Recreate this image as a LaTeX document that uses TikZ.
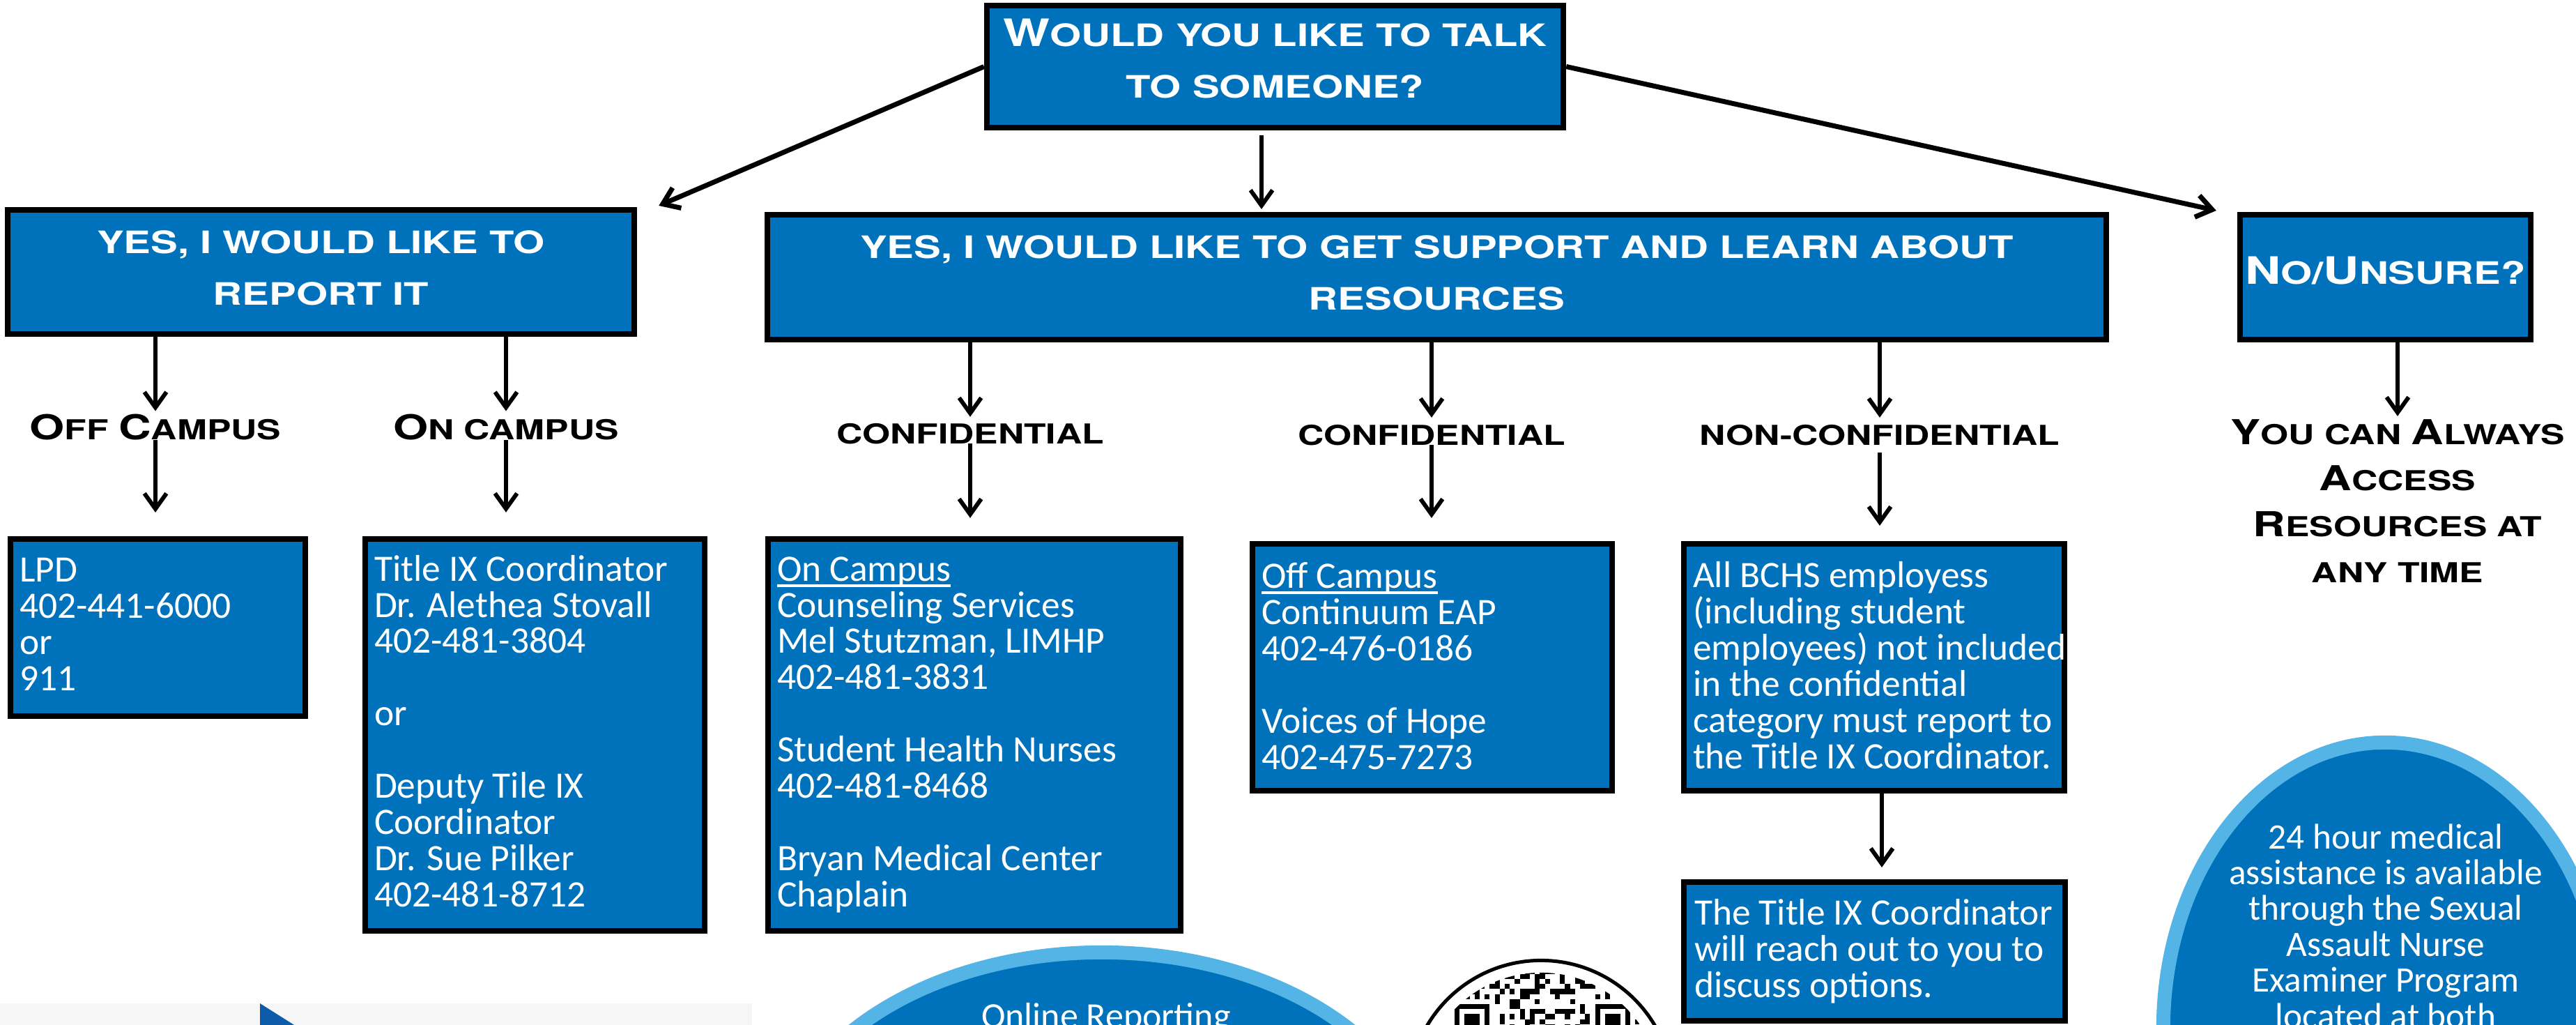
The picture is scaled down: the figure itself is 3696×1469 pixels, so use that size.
\documentclass[tikz,border=0pt]{standalone}
\usepackage{fontspec}
\setmainfont{Carlito}
\newfontfamily\bodyf{Carlito}
\newfontfamily\capf[FakeStretch=1.31]{TeX Gyre Heros}
\usetikzlibrary{arrows.meta,shapes.geometric}
\definecolor{boxblue}{RGB}{0,114,187}
\definecolor{ringblue}{RGB}{84,180,230}
\definecolor{triblue}{RGB}{12,92,170}
\definecolor{bandgray}{RGB}{246,246,246}
\setlength{\lineskiplimit}{-20pt}
\newcommand\Hb[1]{{\fontsize{15.4}{21}\selectfont #1}}
\newcommand\Lb[1]{{\fontsize{14}{18.7}\selectfont #1}}
\newcommand\myul[1]{\setbox0=\hbox{#1}\rlap{\rule[-2.4pt]{\wd0}{1.1pt}}\box0}
\tikzset{
  box/.style={rectangle, draw=black, line width=0.08cm, fill=boxblue, inner sep=0pt},
  hdr/.style={anchor=base, align=center, inner sep=0pt, outer sep=0pt, text=white, font=\capf\bfseries\fontsize{12.6}{21}\selectfont},
  lbl/.style={anchor=base, align=center, inner sep=0pt, outer sep=0pt, text=black, font=\capf\bfseries\fontsize{11.2}{18.7}\selectfont},
  body/.style={anchor=base west, align=left, inner sep=0pt, outer sep=0pt, text=white, font=\bodyf\fontsize{15.2}{14.75}\selectfont},
  ovaltext/.style={anchor=base, align=center, inner sep=0pt, text=white, font=\bodyf\fontsize{14.6}{14.6}\selectfont},
  arr/.style={line width=1.7pt, -{Straight Barb[length=6.3pt,width=9pt]}},
  darr/.style={arr, line width=2pt},
  oval/.style={ellipse, draw=ringblue, line width=0.2cm, fill=boxblue, inner sep=0pt}
}
\begin{document}
\begin{tikzpicture}[x=0.01cm, y=-0.01cm]
\useasboundingbox (0,0) rectangle (3696,1469);
\clip (0,0) rectangle (3696,1469);
\fill[white] (0,0) rectangle (3696,1469);
% bottom-left decoration
\fill[bandgray] (0,1439) rectangle (1079,1480);
\fill[triblue] (373,1439) -- (373,1480) -- (438,1480) -- cycle;

% ovals
\node[oval, minimum width=9.4cm, minimum height=6.4cm] (online) at (1581,1686) {};
\node[ovaltext, font=\bodyf\fontsize{14.8}{14.75}\selectfont] (onlineT) at (1587,1474) {Online Reporting};
\node[oval, minimum width=6.36cm, minimum height=8.2cm] (sane) at (3422,1475) {};
\node[ovaltext] (saneT) at (3423,1474) {24 hour medical\\assistance is available\\through the Sexual\\Assault Nurse\\Examiner Program\\located at both};

% QR code
\node[circle, draw=black, line width=0.05cm, fill=white, minimum size=3.79cm, inner sep=0pt] (qr) at (2211,1567) {};
\begin{scope}
  \clip (qr.center) circle [radius=1.72cm];
  \pgfmathsetseed{1234}
  \foreach \i in {-8,...,42}{
    \foreach \j in {-8,...,4}{
      \pgfmathsetmacro\rr{rnd}
      \pgfmathtruncatemacro\inF{((\i>=-1)&&(\i<=7)&&(\j>=-1))||((\i>=27)&&(\i<=35)&&(\j>=-1))}
      \pgfmathtruncatemacro\ok{(\rr<0.42)&&(\inF==0)}
      \ifnum\ok=1 \fill (2087+\i*7.2,1440+\j*7.2) rectangle ++(7.2,7.2);\fi
    }
  }
  \foreach \fx in {2087,2288.6}{
    \fill (\fx,1440) rectangle ++(50.4,50.4);
    \fill[white] (\fx+7.2,1447.2) rectangle ++(36,36);
    \fill (\fx+14.4,1454.4) rectangle ++(21.6,21.6);
  }
\end{scope}

% boxes
\node[box, minimum width=8.27cm, minimum height=1.75cm] (top) at (1829.5,95.5) {};
\node[box, minimum width=8.99cm, minimum height=1.78cm] (report) at (460.5,390) {};
\node[box, minimum width=19.19cm, minimum height=1.79cm] (support) at (2061.5,397.5) {};
\node[box, minimum width=4.17cm, minimum height=1.79cm] (unsure) at (3422.5,397.5) {};
\node[box, minimum width=4.23cm, minimum height=2.54cm] (lpd) at (226.5,900) {};
\node[box, minimum width=4.87cm, minimum height=5.62cm] (tix) at (767.5,1054) {};
\node[box, minimum width=5.92cm, minimum height=5.62cm] (onc) at (1398,1054) {};
\node[box, minimum width=5.16cm, minimum height=3.54cm] (offc) at (2055,957) {};
\node[box, minimum width=5.46cm, minimum height=3.54cm] (bchs) at (2689,957) {};
\node[box, minimum width=5.47cm, minimum height=1.99cm] (coord) at (2689.5,1364.5) {};

% header texts (anchored at the baseline of the last line)
\node[hdr] (topT) at (1829.5,140) {\Hb{W}OULD YOU LIKE TO TALK\\TO SOMEONE?};
\node[hdr] (reportT) at (460.5,437) {YES, I WOULD LIKE TO\\REPORT IT};
\node[hdr] (supportT) at (2061.5,444) {YES, I WOULD LIKE TO GET SUPPORT AND LEARN ABOUT\\RESOURCES};
\node[hdr] (unsureT) at (3422.5,407) {\Hb{N}O/\Hb{U}NSURE?};

% labels
\node[lbl] (offL) at (223,630) {\Lb{O}FF \Lb{C}AMPUS};
\node[lbl] (onL) at (726,630) {\Lb{O}N CAMPUS};
\node[lbl] (conf1) at (1392,636) {CONFIDENTIAL};
\node[lbl] (conf2) at (2054,638) {CONFIDENTIAL};
\node[lbl] (nonconf) at (2697,638) {NON-CONFIDENTIAL};
\node[lbl] (alwaysL) at (3440,835) {\Lb{Y}OU CAN \Lb{A}LWAYS\\\Lb{A}CCESS\\\Lb{R}ESOURCES AT\\ANY TIME};

% body texts (anchored at the baseline of the last line)
\node[body] (lpdT) at (28,990) {LPD\\402-441-6000\\or\\911};
\node[body] (tixT) at (537,1300) {Title IX Coordinator\\Dr. Alethea Stovall\\402-481-3804\\[14.75pt]or\\[14.75pt]Deputy Tile IX\\Coordinator\\Dr. Sue Pilker\\402-481-8712};
\node[body] (oncT) at (1115,1300) {\myul{On Campus}\\Counseling Services\\Mel Stutzman, LIMHP\\402-481-3831\\[14.75pt]Student Health Nurses\\402-481-8468\\[14.75pt]Bryan Medical Center\\Chaplain};
\node[body] (offcT) at (1810,1103) {\myul{Off Campus}\\Continuum EAP\\402-476-0186\\[14.75pt]Voices of Hope\\402-475-7273};
\node[body] (bchsT) at (2429,1102) {All BCHS employess\\(including student\\employees) not included\\in the confidential\\category must report to\\the Title IX Coordinator.};
\node[body] (coordT) at (2431,1430) {The Title IX Coordinator\\will reach out to you to\\discuss options.};

% connectors
\coordinate (topout) at ([xshift=-0.195cm]top.south);
\draw[arr, shorten <=0.07cm, shorten >=0.04cm] (topout) -- (topout |- support.north);
\draw[darr] (top.west) -- ([shift={(0.31cm,0.02cm)}]report.north east);
\draw[darr] (top.east) -- ([shift={(-0.3cm,0.02cm)}]unsure.north west);

\draw[arr, shorten >=0.04cm] (offL.north |- report.south) -- (offL.north);
\draw[arr, shorten >=0.34cm] (offL.south) -- (offL.south |- lpd.north);
\draw[arr, shorten >=0.04cm] (onL.north |- report.south) -- (onL.north);
\draw[arr, shorten >=0.34cm] (onL.south) -- (onL.south |- tix.north);

\draw[arr, shorten >=0.09cm] (conf1.north |- support.south) -- (conf1.north);
\draw[arr, shorten >=0.26cm] (conf1.south) -- (conf1.south |- onc.north);
\draw[arr, shorten >=0.1cm] (conf2.north |- support.south) -- (conf2.north);
\draw[arr, shorten >=0.33cm] (conf2.south) -- (conf2.south |- offc.north);
\draw[arr, shorten >=0.1cm] (nonconf.north |- support.south) -- (nonconf.north);
\draw[arr, shorten <=0.11cm, shorten >=0.22cm] (nonconf.south) -- (nonconf.south |- bchs.north);

\draw[arr, shorten >=0.05cm] (alwaysL.north |- unsure.south) -- (alwaysL.north);

\coordinate (bchsout) at ([xshift=0.11cm]bchs.south);
\draw[arr, shorten >=0.17cm] (bchsout) -- (bchsout |- coord.north);
\end{tikzpicture}
\end{document}
